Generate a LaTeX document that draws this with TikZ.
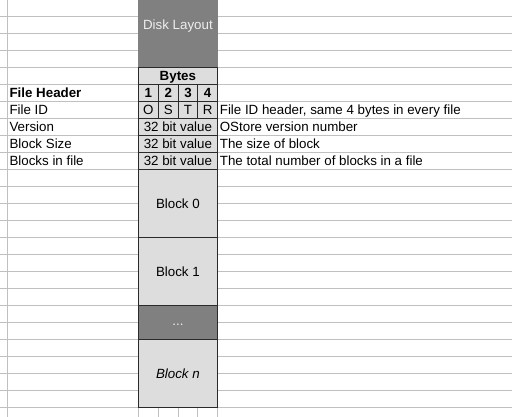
\documentclass[tikz,border=0pt]{standalone}
\usepackage{fontspec}
\setmainfont{Liberation Sans}
\definecolor{gridgray}{HTML}{C0C0C0}
\definecolor{cellfill}{HTML}{DDDDDD}
\definecolor{darkfill}{HTML}{808080}
\definecolor{edge}{HTML}{2A2A2A}
\definecolor{lighttext}{HTML}{EEEEEE}
\begin{document}
\begin{tikzpicture}[x=0.75pt, y=-0.75pt,
  font=\fontsize{10}{12}\selectfont,
  gridline/.style={draw=gridgray, line width=0.75pt},
  cellbox/.style={fill=cellfill, draw=edge, line width=0.75pt},
  darkbox/.style={fill=darkfill, draw=edge, line width=0.75pt},
  lefttext/.style={anchor=base west, inner sep=0pt},
  midtext/.style={anchor=base, inner sep=0pt},
  blocktext/.style={anchor=center, inner sep=0pt}]
  % page area
  \fill[white] (0,0) rectangle (512,417);
  \useasboundingbox (0,0) rectangle (512,417);

  % spreadsheet grid
  \foreach \k in {0,...,23}
    \draw[gridline] (0,{16.3+17*\k}) -- (512,{16.3+17*\k});
  \draw[gridline] (7.3,0) -- (7.3,417);
  \foreach \x in {138.3,158.3,178.3,197.8,217.5}
    \draw[gridline] (\x,407.3) -- (\x,417);

  % title cell
  \fill[darkfill] (138.3,-2) rectangle (217.5,67.3);
  \node[midtext, text=lighttext] (title) at (177.9,30) {Disk Layout};

  % header cells
  \filldraw[cellbox] (138.3,67.3) rectangle (217.5,84.3);
  \node[midtext, font=\fontsize{10}{12}\selectfont\bfseries] (bytes) at (177.9,81) {Bytes};

  \foreach \xa/\xb/\n/\c [count=\i] in {138.3/158.3/1/O, 158.3/178.3/2/S, 178.3/197.8/3/T, 197.8/217.5/4/R}{
    \filldraw[cellbox] (\xa,84.3) rectangle (\xb,101.3);
    \filldraw[cellbox] (\xa,101.3) rectangle (\xb,118.3);
    \node[midtext, font=\fontsize{10}{12}\selectfont\bfseries] (num\i) at ({(\xa+\xb)/2},98) {\n};
    \node[midtext] (id\i) at ({(\xa+\xb)/2},115) {\c};
  }

  \foreach \yt/\yb/\nm in {118.3/135.3/ver, 135.3/152.3/bsize, 152.3/169.3/bcount}{
    \filldraw[cellbox] (138.3,\yt) rectangle (217.5,\yb);
    \node[midtext] (\nm) at (177.9,\yb-3.3) {32 bit value};
  }

  % blocks
  \filldraw[cellbox] (138.3,169.3) rectangle (217.5,237.3);
  \node[blocktext] (block0) at (177.9,203.3) {Block 0};
  \filldraw[cellbox] (138.3,237.3) rectangle (217.5,305.3);
  \node[blocktext] (block1) at (177.9,271.3) {Block 1};
  \filldraw[darkbox] (138.3,305.3) rectangle (217.5,339.3);
  \node[midtext, text=lighttext] (gap) at (177.9,326) {...};
  \filldraw[cellbox] (138.3,339.3) rectangle (217.5,407.3);
  \node[blocktext] (blockn) at (177.9,373.3) {\itshape Block n};

  % row labels
  \node[lefttext, font=\fontsize{10}{12}\selectfont\bfseries] (hdr) at (9.3,98) {File Header};
  \node[lefttext] (lid) at (9.3,115) {File ID};
  \node[lefttext] (lver) at (9.3,132) {Version};
  \node[lefttext] (lsize) at (9.3,149) {Block Size};
  \node[lefttext] (lcount) at (9.3,166) {Blocks in file};

  % descriptions
  \node[lefttext] (did) at (219.6,115) {File ID header, same 4 bytes in every file};
  \node[lefttext] (dver) at (219.6,132) {OStore version number};
  \node[lefttext] (dsize) at (219.6,149) {The size of block};
  \node[lefttext] (dcount) at (219.6,166) {The total number of blocks in a file};
\end{tikzpicture}
\end{document}
